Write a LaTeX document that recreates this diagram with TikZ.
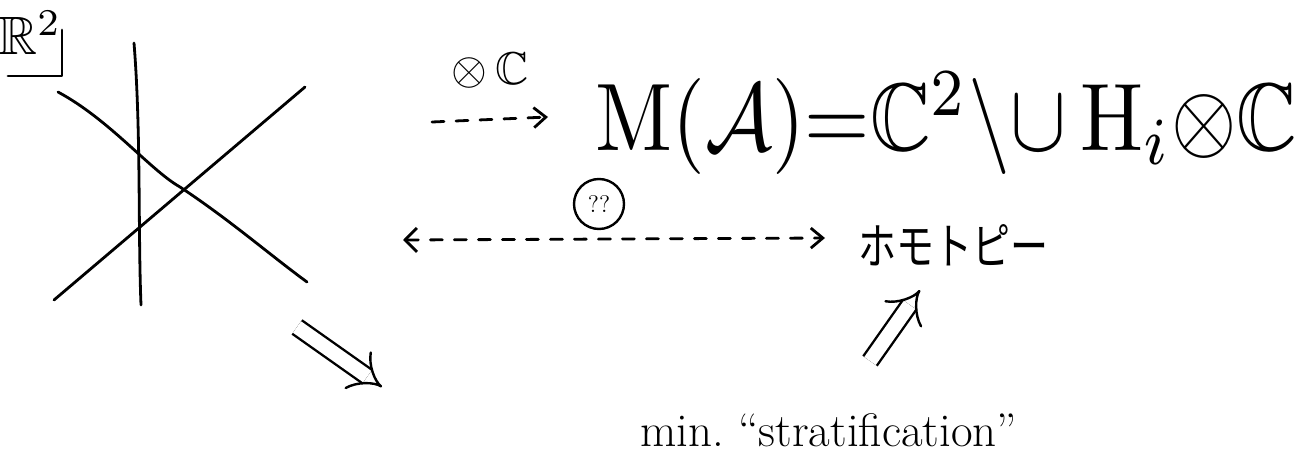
\documentclass[tikz,border=0pt]{standalone}
\usepackage{amssymb}
\usepackage{graphicx}
\usepackage{fontspec}
\newfontfamily\cjk{Noto Sans CJK JP}
\usetikzlibrary{arrows.meta}
\tikzset{
  pen/.style={line width=1.4pt, line cap=round, line join=round},
  dasharrow/.style={pen, dash pattern=on 6pt off 6pt, -{Straight Barb[length=6pt,width=10pt]}},
  dasharrows/.style={pen, dash pattern=on 6pt off 6pt, {Straight Barb[length=6pt,width=12pt]}-{Straight Barb[length=6pt,width=10pt]}},
  dbl/.style={line width=1.2pt, double, double distance=7pt, line cap=butt, -{Implies[length=11pt]}},
  lbl/.style={inner sep=0pt, anchor=base}
}
\begin{document}
\begin{tikzpicture}[x=0.5pt,y=-0.5pt]
\useasboundingbox (0,0) rectangle (1299,460);
% R^2 label with corner
\node[lbl] (R) at (30,55) {\scalebox{2.7}{$\mathbb{R}^{2}$}};
\coordinate (c1) at (8,76);
\coordinate (c2) at (62,76);
\coordinate (c3) at (62,30);
\draw[pen] (c1) -- (c2) -- (c3);
% arrangement of lines
\draw[pen] (134,43) .. controls (141,130) and (138,230) .. (141,305);
\draw[pen] (58,92) .. controls (110,120) and (150,170) .. (180,187) .. controls (230,220) and (270,255) .. (307,282);
\draw[pen] (54,300) -- (305,87);
% top arrow
\node[lbl] (tens) at (490,84) {\scalebox{2.3}{$\otimes\,\mathbb{C}$}};
\coordinate (t1) at (432,122);
\coordinate (t2) at (548,117);
\draw[dasharrow] (t1) -- (t2);
\node[lbl, anchor=base west] (M) at (595,150)
  {\scalebox{4.2}[4.8]{$\mathrm{M}(\mathcal{A}){=}\mathbb{C}^{2}{\setminus}{\cup}\,\mathrm{H}_i{\otimes}\mathbb{C}$}};
% middle double arrow
\node[draw, circle, line width=1.2pt, inner sep=0pt, minimum size=25pt, font=\fontsize{12}{14}\selectfont] (q) at (599,204) {??};
\coordinate (m1) at (403,240);
\coordinate (m2) at (825,238);
\draw[dasharrows] (m1) -- (m2);
\node[lbl, font=\cjk\fontsize{19}{22}\selectfont, anchor=base west] (homo) at (858,264) {\scalebox{1}[1.3]{ホモトピー}};
% lower double arrows
\coordinate (d1) at (297,327);
\coordinate (d2) at (382,387);
\draw[dbl] (d1) -- (d2);
\coordinate (u1) at (870,361);
\coordinate (u2) at (920,290);
\draw[dbl] (u1) -- (u2);
\node[lbl, font=\fontsize{23.5}{28}\selectfont, anchor=base west] (strat) at (640,446) {min.\ ``stratification''};
\end{tikzpicture}
\end{document}
